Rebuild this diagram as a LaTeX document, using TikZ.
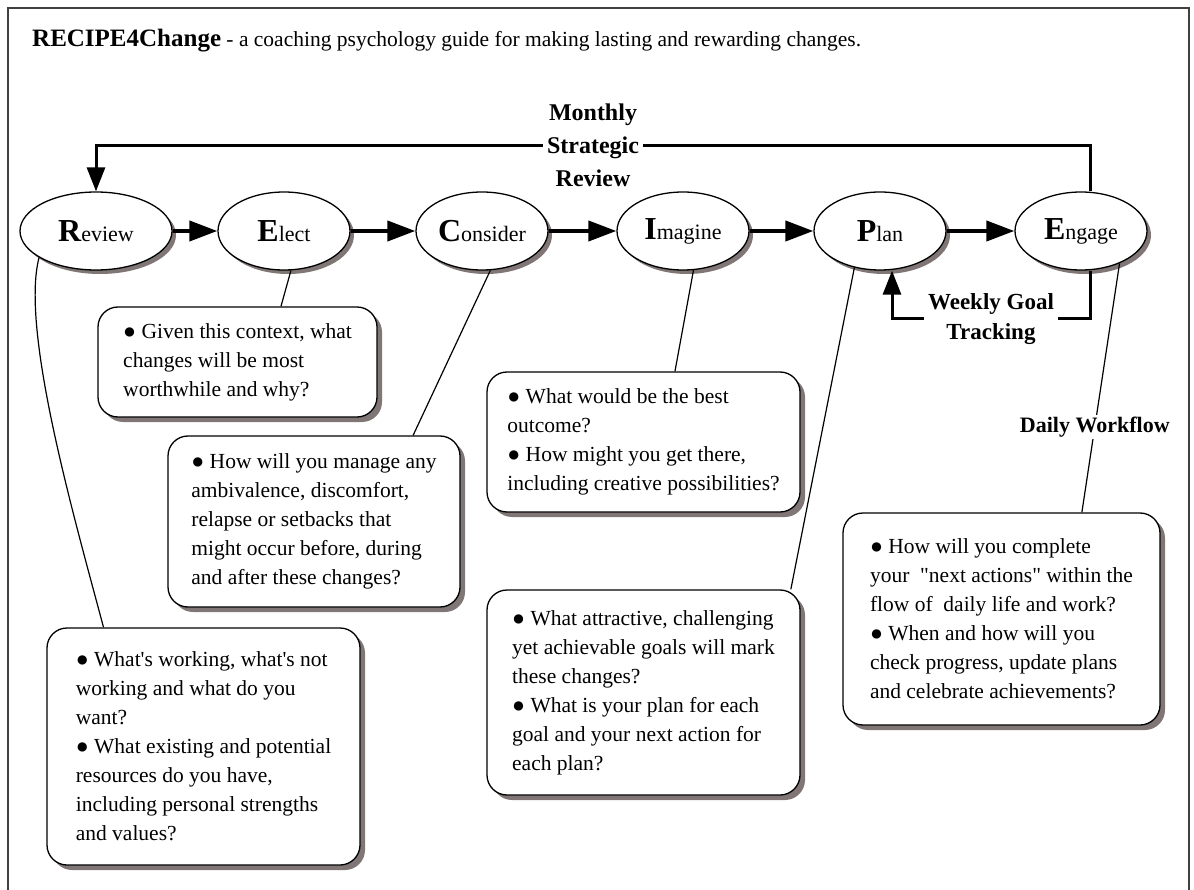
\documentclass[tikz,border=0pt]{standalone}
\usepackage{fontspec}
\setmainfont{Liberation Serif}
\usetikzlibrary{arrows.meta}
\usetikzlibrary{shapes.geometric}
\usetikzlibrary{shadows}
\definecolor{shadowgray}{RGB}{128,118,118}
\newcommand{\bigletter}[1]{{\fontsize{32}{32}\selectfont\bfseries #1}}

\begin{document}
\begin{tikzpicture}[x=1pt, y=-1pt,
    stage/.style={ellipse, draw, line width=1.3pt, fill=white, minimum width=132pt, minimum height=78pt,
      inner sep=0pt, font=\fontsize{22}{22}\selectfont,
      drop shadow={shadow xshift=4pt, shadow yshift=-4pt, fill=shadowgray, opacity=1}},
    note/.style={rectangle, rounded corners=20pt, draw, line width=1.3pt, fill=white, align=left,
      inner sep=0pt, font=\fontsize{21.5}{29}\selectfont,
      drop shadow={shadow xshift=5pt, shadow yshift=-5pt, fill=shadowgray, opacity=1}},
    flow/.style={line width=4pt, -{Triangle[length=28pt, width=20pt]}},
    feedback/.style={line width=3pt, -{Triangle[length=24pt, width=18pt]}},
    link/.style={line width=1.2pt},
    looplabel/.style={fill=white, font=\fontsize{24}{33}\selectfont\bfseries, align=center,
      inner xsep=4pt, inner ysep=0pt}]

  \useasboundingbox (0,0) rectangle (1194,890);
  \draw[line width=1.5pt, black!75] (8,900) -- (8,8) -- (1189,8) -- (1189,900);

  \node[anchor=base west, inner sep=0pt] (title) at (32,47)
    {{\fontsize{25}{25}\selectfont\bfseries RECIPE4Change}{\fontsize{21.5}{21.5}\selectfont\ - a coaching psychology guide for making lasting and rewarding changes.}};

  % the six stages
  \node[stage, minimum width=152pt] (review) at (96,231) {\bigletter{R}eview};
  \node[stage] (elect) at (284,231) {\bigletter{E}lect};
  \node[stage] (consider) at (482,231) {\bigletter{C}onsider};
  \node[stage] (imagine) at (683,231) {\bigletter{I}magine};
  \node[stage] (plan) at (880,231) {\bigletter{P}lan};
  \node[stage] (engage) at (1081,231) {\bigletter{E}ngage};

  \draw[flow] (review) -- (elect);
  \draw[flow] (elect) -- (consider);
  \draw[flow] (consider) -- (imagine);
  \draw[flow] (imagine) -- (plan);
  \draw[flow] (plan) -- (engage);

  \draw[feedback] ([xshift=9pt]engage.north) -- ++(0,-46)
    -- node[looplabel] {Monthly\\Strategic\\Review} ++(-994,0) -- (review.north);
  \draw[feedback] ([xshift=9pt]engage.south) -- ++(0,48)
    -- node[looplabel, font=\fontsize{23}{30}\selectfont\bfseries] {Weekly Goal\\Tracking} ++(-198,0)
    -- ([xshift=12pt]plan.south);

  % questions
  \node[note, minimum width=313pt, minimum height=237pt] (reviewbox) at (203.5,746.5)
    {● What\textquotesingle s working, what\textquotesingle s not\\working and what do you\\want?\\● What existing and potential\\resources do you have,\\including personal strengths\\and values?};
  \node[note, minimum width=279pt, minimum height=110pt] (electbox) at (237.5,362)
    {● Given this context, what\\changes will be most\\worthwhile and why?};
  \node[note, minimum width=292pt, minimum height=171pt] (considerbox) at (314,521.5)
    {● How will you manage any\\ambivalence, discomfort,\\relapse or setbacks that\\might occur before, during\\and after these changes?};
  \node[note, minimum width=313pt, minimum height=140pt] (imaginebox) at (643.5,442)
    {● What would be the best\\outcome?\\● How might you get there,\\including creative possibilities?};
  \node[note, minimum width=313pt, minimum height=205pt] (planbox) at (643.5,692.5)
    {● What attractive, challenging\\yet achievable goals will mark\\these changes?\\● What is your plan for each\\goal and your next action for\\each plan?};
  \node[note, minimum width=317pt, minimum height=212pt] (engagebox) at (1001.5,619)
    {● How will you complete\\your~ \textquotedbl next actions\textquotedbl{} within the\\flow of~ daily life and work?\\● When and how will you\\check progress, update plans\\and celebrate achievements?};

  \draw[link] (review.205) .. controls (20,330) and (75,520) .. (reviewbox.130);
  \draw[link] (elect.280) -- (electbox.52);
  \draw[link] (consider.282) -- (considerbox.41);
  \draw[link] (imagine.285) -- (imaginebox.66);
  \draw[link] (plan.235) -- (planbox.35);
  \draw[link] (engage.320) -- node[pos=0.656, fill=white, inner sep=2pt,
    font=\fontsize{22}{22}\selectfont\bfseries] {Daily Workflow} (engagebox.53);
\end{tikzpicture}
\end{document}
